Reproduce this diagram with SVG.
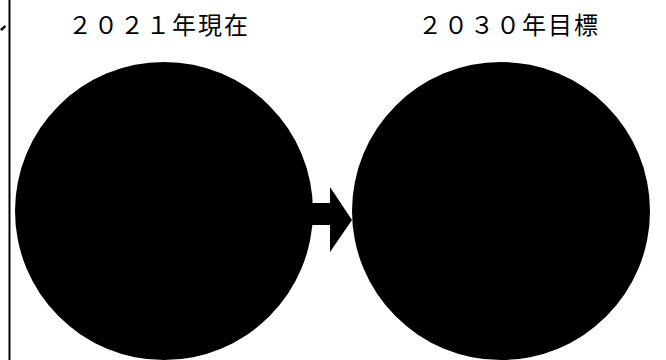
<svg xmlns="http://www.w3.org/2000/svg" width="666" height="360" viewBox="0 0 666 360">
<style>
.lbl{font-family:"Noto Sans CJK JP","Noto Sans CJK SC",sans-serif;font-size:24px;fill:#000}
.blk{fill:#000}
</style>
<rect width="666" height="360" fill="#fff"/>
<line x1="9.5" y1="0" x2="9.5" y2="360" stroke="#000" stroke-width="2"/>
<polygon class="blk" points="0,29 5,25 6,27 2,31"/>
<g id="label-2021">
<text class="lbl" x="68" y="34" textLength="180" lengthAdjust="spacing">２０２１年現在</text>
</g>
<g id="label-2030">
<text class="lbl" x="418" y="34" textLength="180" lengthAdjust="spacing">２０３０年目標</text>
</g>
<g id="connectors">
<polygon class="blk" points="300,203 330,203 330,187 352,220 330,252 330,225 300,225"/>
</g>
<g id="node-2021">
<circle class="blk" cx="164" cy="211" r="149"/>
</g>
<g id="node-2030">
<circle class="blk" cx="501" cy="211" r="149"/>
</g>
</svg>
